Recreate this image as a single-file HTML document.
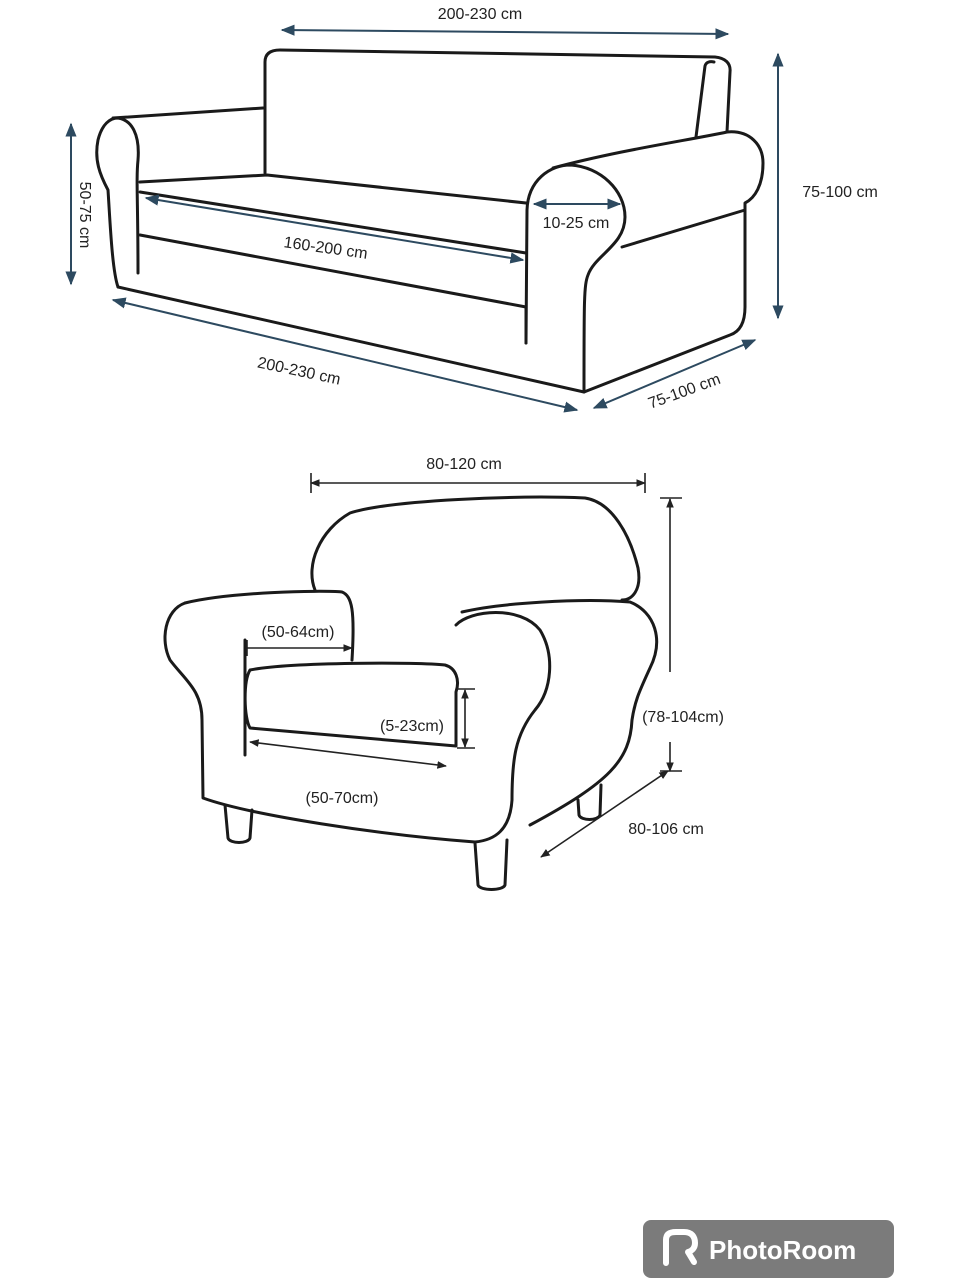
<!DOCTYPE html>
<html><head><style>
html,body{margin:0;padding:0;background:#fff}
svg{display:block}
text{font-family:"Liberation Sans",sans-serif;fill:#222}
</style></head><body>
<svg width="960" height="1280" viewBox="0 0 960 1280" xmlns="http://www.w3.org/2000/svg">
<defs>
<marker id="a" viewBox="0 0 10 10" refX="9" refY="5" markerWidth="7" markerHeight="7" orient="auto-start-reverse"><path d="M0,1 L10,5 L0,9 Z" fill="#2d4a60"/></marker>
<marker id="b" viewBox="0 0 10 10" refX="9" refY="5" markerWidth="6" markerHeight="6" orient="auto-start-reverse"><path d="M0,1 L10,5 L0,9 Z" fill="#222"/></marker>
</defs>
<g fill="none" stroke="#1a1a1a" stroke-width="3" stroke-linejoin="round" stroke-linecap="round">
<path d="M265,173 L265,62 C265,54 270,50 280,50 L715,57 C725,58 731,63 730,72 L727,132"/>
<path d="M696,137 L705,66 C706,62 710,61 714,62"/>
<path d="M113,118 L263,108"/>
<path d="M118,287 C112,270 110,220 108,190 C100,175 94,160 98,140 C102,124 110,118 118,118 C132,120 140,135 138,160 C136,180 138,200 138,273"/>
<path d="M118,287 L584,392"/>
<path d="M140,182 L267,175 L526,203"/>
<path d="M140,192 L526,253"/>
<path d="M140,235 L526,307"/>
<path d="M526,307 L526,343"/>
<path d="M553,168 C620,150 690,140 727,132 C750,130 763,145 763,163 C763,185 755,198 745,203 L745,307 Q745,330 730,335 L584,392"/>
<path d="M526,343 L527,210 C528,180 550,165 571,165 C600,167 625,190 625,217 C625,245 595,255 588,275 C584,285 584,300 584,392"/>
<path d="M622,247 L745,210"/>
<path d="M315,590 C305,565 320,530 350,513 C390,500 520,495 585,498 C612,502 630,535 638,568 C642,590 632,600 622,600"/>
<path d="M185,603 C230,592 320,590 342,592 C352,596 355,610 352,660"/>
<path d="M185,603 C165,610 160,640 170,660 C185,680 202,690 202,720 L203,798 C250,815 380,835 475,842"/>
<path d="M245,640 L245,755"/>
<path d="M250,670 C290,662 420,662 445,665 C456,668 460,680 456,692 L456,746 L250,728 C244,718 243,682 250,670 Z"/>
<path d="M462,612 C500,603 580,598 630,602 C655,612 664,640 650,668 C640,690 635,700 632,720 C630,760 610,782 530,825"/>
<path d="M456,625 C470,610 520,605 540,630 C555,655 552,690 535,710 C515,735 512,760 512,800 C510,830 495,840 475,842"/>
<path d="M225,805 L228,838 C230,844 248,844 250,838 L252,810"/>
<path d="M475,843 L478,885 C480,891 503,891 505,885 L507,840"/>
<path d="M578,800 L579,815 C581,821 598,821 600,815 L601,785"/>
</g>
<g stroke="#2d4a60" stroke-width="2" fill="none">
<line x1="282" y1="30" x2="728" y2="34" marker-start="url(#a)" marker-end="url(#a)"/>
<line x1="778" y1="54" x2="778" y2="318" marker-start="url(#a)" marker-end="url(#a)"/>
<line x1="71" y1="124" x2="71" y2="284" marker-start="url(#a)" marker-end="url(#a)"/>
<line x1="113" y1="300" x2="577" y2="410" marker-start="url(#a)" marker-end="url(#a)"/>
<line x1="594" y1="408" x2="755" y2="340" marker-start="url(#a)" marker-end="url(#a)"/>
<line x1="146" y1="198" x2="523" y2="260" marker-start="url(#a)" marker-end="url(#a)"/>
<line x1="534" y1="204" x2="620" y2="204" marker-start="url(#a)" marker-end="url(#a)"/>
</g>
<g stroke="#222" stroke-width="1.6" fill="none">
<line x1="311" y1="483" x2="645" y2="483" marker-start="url(#b)" marker-end="url(#b)"/>
<line x1="311" y1="473" x2="311" y2="493"/><line x1="645" y1="473" x2="645" y2="493"/>
<line x1="670" y1="499" x2="670" y2="672" marker-start="url(#b)"/>
<line x1="670" y1="742" x2="670" y2="771" marker-end="url(#b)"/>
<line x1="660" y1="498" x2="682" y2="498"/><line x1="660" y1="771" x2="682" y2="771"/>
<line x1="541" y1="857" x2="668" y2="771" marker-start="url(#b)" marker-end="url(#b)"/>
<line x1="247" y1="648" x2="352" y2="648" marker-end="url(#b)"/>
<line x1="247" y1="640" x2="247" y2="656"/>
<line x1="465" y1="690" x2="465" y2="747" marker-start="url(#b)" marker-end="url(#b)"/>
<line x1="457" y1="689" x2="475" y2="689"/><line x1="457" y1="748" x2="475" y2="748"/>
<line x1="250" y1="742" x2="446" y2="766" marker-start="url(#b)" marker-end="url(#b)"/>
</g>
<g font-size="16">
<text x="480" y="19" text-anchor="middle">200-230 cm</text>
<text x="840" y="197" text-anchor="middle">75-100 cm</text>
<text transform="translate(80,215) rotate(90)" text-anchor="middle">50-75 cm</text>
<text transform="translate(298,376) rotate(12)" text-anchor="middle">200-230 cm</text>
<text transform="translate(686,396) rotate(-20)" text-anchor="middle">75-100 cm</text>
<text transform="translate(325,253) rotate(8)" text-anchor="middle">160-200 cm</text>
<text x="576" y="228" text-anchor="middle">10-25 cm</text>
<text x="464" y="469" text-anchor="middle">80-120 cm</text>
<text x="683" y="722" text-anchor="middle">(78-104cm)</text>
<text x="666" y="834" text-anchor="middle">80-106 cm</text>
<text x="298" y="637" text-anchor="middle">(50-64cm)</text>
<text x="412" y="731" text-anchor="middle">(5-23cm)</text>
<text x="342" y="803" text-anchor="middle">(50-70cm)</text>
</g>
<rect x="643" y="1220" width="251" height="58" rx="8" fill="#7b7b7b"/>
<path d="M666,1263 L666,1240 C666,1234 670,1232 676,1232 L684,1232 C692,1232 695,1237 695,1243 C695,1248 692,1251 688,1252 L694,1262" fill="none" stroke="#fff" stroke-width="6" stroke-linecap="round" stroke-linejoin="round"/>
<text x="709" y="1259" font-size="26" font-weight="bold" style="fill:#fff">PhotoRoom</text>
</svg>
</body></html>
